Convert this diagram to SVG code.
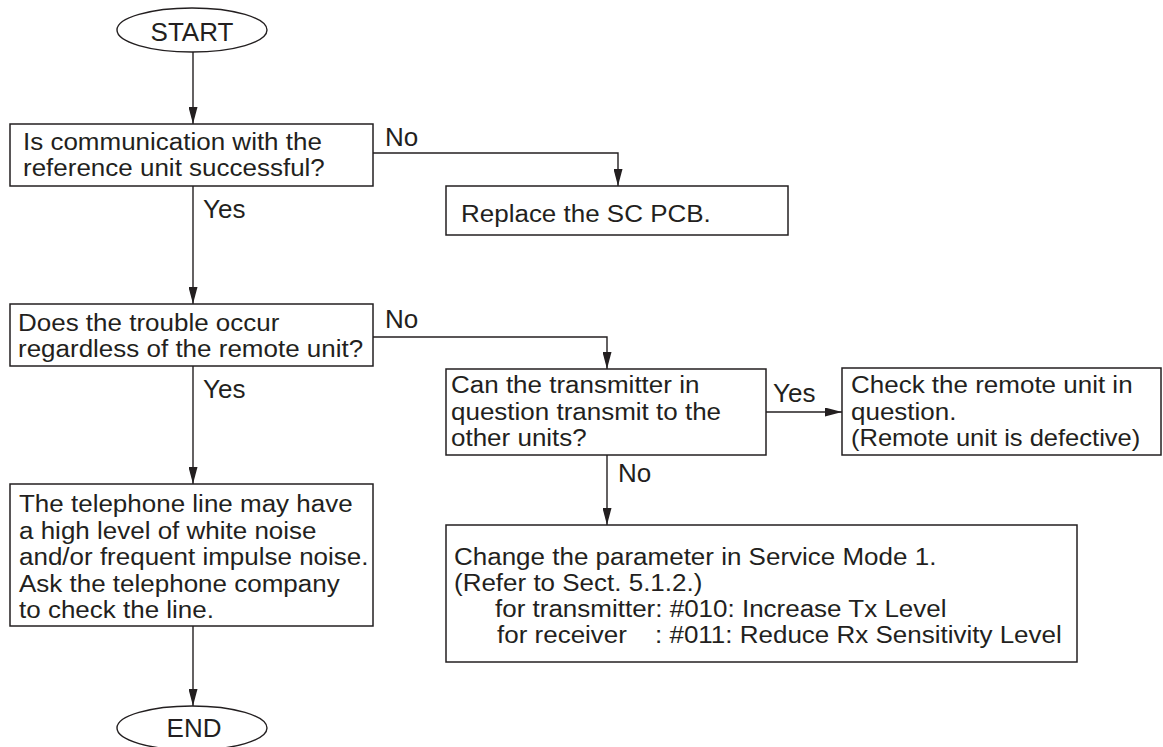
<svg xmlns="http://www.w3.org/2000/svg" width="1163" height="747" viewBox="0 0 1163 747">
<style>
  .box { fill: #ffffff; stroke: #231f20; stroke-width: 1.5; }
  .term { fill: #ffffff; stroke: #231f20; stroke-width: 1.4; }
  .t { font-family: "Liberation Sans", Arial, Helvetica, sans-serif; font-size: 23px; fill: #231f20; }
  .lbl { font-family: "Liberation Sans", Arial, Helvetica, sans-serif; font-size: 26px; fill: #231f20; }
  .c { fill: none; stroke: #231f20; stroke-width: 1.4; }
</style>
<defs>
  <marker id="arr" markerUnits="userSpaceOnUse" markerWidth="17" markerHeight="9" refX="17" refY="4.5" orient="auto">
    <path d="M0,0 L17,4.5 L0,9 z" fill="#231f20"/>
  </marker>
</defs>
<rect width="1163" height="747" fill="#ffffff"/>

<g id="connectors">
  <path class="c" d="M193,52 V124" marker-end="url(#arr)"/>
  <path class="c" d="M373,153 H618 V186" marker-end="url(#arr)"/>
  <path class="c" d="M193,186 V304" marker-end="url(#arr)"/>
  <path class="c" d="M373,337 H607 V369" marker-end="url(#arr)"/>
  <path class="c" d="M193,366 V484" marker-end="url(#arr)"/>
  <path class="c" d="M766,412 H842" marker-end="url(#arr)"/>
  <path class="c" d="M607,455 V525" marker-end="url(#arr)"/>
  <path class="c" d="M193,626 V706" marker-end="url(#arr)"/>
  <text class="lbl" x="385" y="146">No</text>
  <text class="lbl" x="203" y="218">Yes</text>
  <text class="lbl" x="385" y="328">No</text>
  <text class="lbl" x="203" y="398">Yes</text>
  <text class="lbl" x="773" y="402">Yes</text>
  <text class="lbl" x="618" y="482">No</text>
</g>

<g id="start">
  <ellipse class="term" cx="192" cy="30" rx="75" ry="22"/>
  <text class="lbl" x="192" y="41" text-anchor="middle">START</text>
</g>

<g id="q1">
  <rect class="box" x="10" y="124" width="363" height="62"/>
  <text class="t" transform="translate(23,150) scale(1.13,1)">Is communication with the</text>
  <text class="t" transform="translate(23,176) scale(1.13,1)">reference unit successful?</text>
</g>

<g id="replace-sc">
  <rect class="box" x="446" y="186" width="342" height="49"/>
  <text class="t" transform="translate(461,222) scale(1.13,1)">Replace the SC PCB.</text>
</g>

<g id="q2">
  <rect class="box" x="10" y="304" width="363" height="62"/>
  <text class="t" transform="translate(18,331) scale(1.13,1)">Does the trouble occur</text>
  <text class="t" transform="translate(18,357) scale(1.13,1)">regardless of the remote unit?</text>
</g>

<g id="q3">
  <rect class="box" x="446" y="369" width="320" height="86"/>
  <text class="t" transform="translate(451,393) scale(1.13,1)">Can the transmitter in</text>
  <text class="t" transform="translate(451,420) scale(1.13,1)">question transmit to the</text>
  <text class="t" transform="translate(451,446) scale(1.13,1)">other units?</text>
</g>

<g id="check-remote">
  <rect class="box" x="842" y="368" width="319" height="87"/>
  <text class="t" transform="translate(851,393) scale(1.13,1)">Check the remote unit in</text>
  <text class="t" transform="translate(851,420) scale(1.13,1)">question.</text>
  <text class="t" transform="translate(851,446) scale(1.11,1)">(Remote unit is defective)</text>
</g>

<g id="change-param">
  <rect class="box" x="446" y="525" width="631" height="137"/>
  <text class="t" transform="translate(454,565) scale(1.13,1)">Change the parameter in Service Mode 1.</text>
  <text class="t" transform="translate(454,591) scale(1.13,1)">(Refer to Sect. 5.1.2.)</text>
  <text class="t" transform="translate(495,617) scale(1.13,1)">for transmitter: #010: Increase Tx Level</text>
  <text class="t" transform="translate(497,643) scale(1.13,1)">for receiver</text>
  <text class="t" transform="translate(655,643) scale(1.13,1)">: #011: Reduce Rx Sensitivity Level</text>
</g>

<g id="line-noise">
  <rect class="box" x="10" y="484" width="363" height="142"/>
  <text class="t" transform="translate(19,512) scale(1.13,1)">The telephone line may have</text>
  <text class="t" transform="translate(19,538.5) scale(1.13,1)">a high level of white noise</text>
  <text class="t" transform="translate(19,565) scale(1.13,1)">and/or frequent impulse noise.</text>
  <text class="t" transform="translate(19,591.5) scale(1.13,1)">Ask the telephone company</text>
  <text class="t" transform="translate(19,618) scale(1.13,1)">to check the line.</text>
</g>

<g id="end">
  <ellipse class="term" cx="192" cy="728" rx="75" ry="22"/>
  <text class="lbl" x="194" y="737" text-anchor="middle">END</text>
</g>
</svg>
